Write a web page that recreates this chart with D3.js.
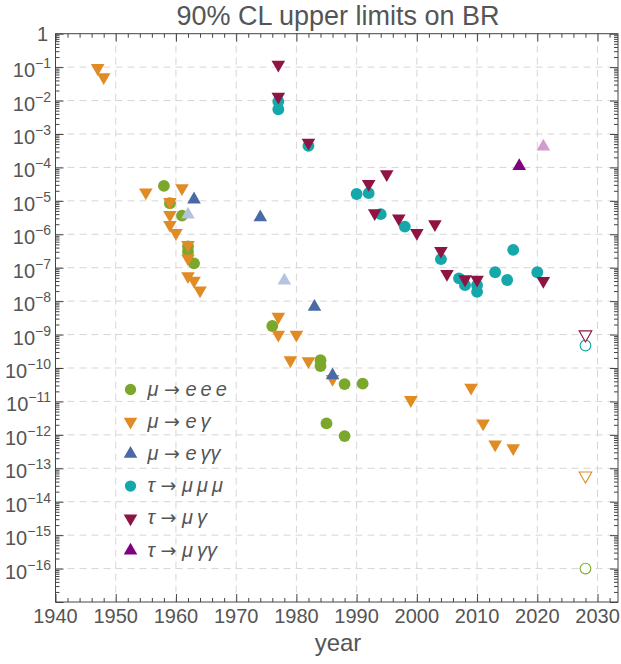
<!DOCTYPE html>
<html>
<head>
<meta charset="utf-8">
<script src="https://cdn.jsdelivr.net/npm/d3@7"></script>
<style>
  body { margin: 0; background: #fff; }
  text { font-family: "Liberation Sans", Arial, sans-serif; fill: #555; }
</style>
</head>
<body>
<svg id="chart" width="621" height="664"></svg>
<script>
// values: [year, BR upper limit]
var muEEE = [[1958,2.8e-5],[1959,8.5e-6],[1961,3.6e-6],[1962,4.3e-7],[1962,3e-7],[1963,1.35e-7],
             [1976,1.8e-9],[1984,1.7e-10],[1984,1.15e-10],[1988,3.3e-11],[1991,3.4e-11],
             [1985,2.2e-12],[1988,9.2e-13]];
var muEG = [[1947,0.094],[1948,0.05],[1955,1.8e-5],[1961,2.4e-5],[1959,9.3e-6],[1959,3.8e-6],
            [1959,1.9e-6],[1960,1.1e-6],[1962,4.8e-7],[1962,1.9e-7],[1962,5.6e-8],[1963,4.1e-8],
            [1964,2.1e-8],[1977,3.4e-9],[1977,1e-9],[1980,1e-9],[1979,1.7e-10],[1982,1.6e-10],
            [1986,4.7e-11],[1999,1.1e-11],[2009,2.6e-11],[2011,2.2e-12],[2013,5.2e-13],[2016,4e-13]];
var muEGG = [[1963,1.1e-5],[1974,3.2e-6],[1983,6.8e-9],[1986,6e-11]];
var muEGGlight = [[1962,3.9e-6],[1978,4.1e-8]];
var tauMMM = [[1977,9.3e-3],[1977,5.5e-3],[1982,4.4e-4],[1990,1.6e-5],[1992,1.7e-5],[1994,4e-6],
              [1998,1.7e-6],[2004,1.8e-7],[2007,4.8e-8],[2008,3e-8],[2010,3e-8],[2010,1.9e-8],
              [2013,7.3e-8],[2015,4.3e-8],[2016,3.4e-7],[2020,7.3e-8]];
var tauMG = [[1977,0.118],[1977,1.3e-2],[1982,5.5e-4],[1992,3.2e-5],[1995,6.3e-5],[1993,4.3e-6],
             [1997,3e-6],[2000,1.1e-6],[2003,2e-6],[2004,3.2e-7],[2005,6.5e-8],[2008,4.5e-8],
             [2010,4.4e-8],[2021,4e-8]];
var tauMGG = [[2017,1.1e-4]];
var tauMGGlight = [[2021,4.2e-4]];

// future sensitivities (open markers)
var muEEEproj = [[2028,1e-16]];
var muEGproj = [[2028,6e-14]];
var tauMMMproj = [[2028,4.7e-10]];
var tauMGproj = [[2028,1e-9]];

var xTicks = [1940,1950,1960,1970,1980,1990,2000,2010,2020,2030];
var yExps = [0,-1,-2,-3,-4,-5,-6,-7,-8,-9,-10,-11,-12,-13,-14,-15,-16];

var legendItems = [
  {from: "\u03bc", to: "e\u2009e\u2009e", color: "#7ba82b", shape: "circle"},
  {from: "\u03bc", to: "e\u2009\u03b3", color: "#e08b24", shape: "down"},
  {from: "\u03bc", to: "e\u2009\u03b3\u03b3", color: "#4a6aa6", shape: "up"},
  {from: "\u03c4", to: "\u03bc\u2009\u03bc\u2009\u03bc", color: "#14a8aa", shape: "circle"},
  {from: "\u03c4", to: "\u03bc\u2009\u03b3", color: "#8d1443", shape: "down"},
  {from: "\u03c4", to: "\u03bc\u2009\u03b3\u03b3", color: "#800080", shape: "up"}
];

var svg = d3.select("#chart");
var pL = 55.5, pR = 618, pT = 33.7, pB = 602;

var x = d3.scaleLinear().domain([1940, 2033.4]).range([pL, pR]);
var y = d3.scaleLog().domain([1e-17, 1]).range([pB, pT]);

// grid
var grid = svg.append("g").attr("stroke", "#d6d6d6").attr("stroke-dasharray", "7,5").attr("stroke-width", 1);
grid.selectAll("line.v").data(xTicks.slice(1)).enter().append("line")
  .attr("x1", function(d){ return x(d); }).attr("x2", function(d){ return x(d); })
  .attr("y1", pT).attr("y2", pB);
grid.selectAll("line.h").data(yExps.slice(1)).enter().append("line")
  .attr("x1", pL).attr("x2", pR)
  .attr("y1", function(d){ return y(Math.pow(10, d)); })
  .attr("y2", function(d){ return y(Math.pow(10, d)); });

// minor ticks
var xMinor = d3.range(1940, 2034, 2).filter(function(d){ return d % 10 != 0; });
var yMinor = [];
for (var e = -17; e < 0; e++) {
  for (var m = 2; m <= 9; m++) yMinor.push(m * Math.pow(10, e));
}

function frameAxis(axis, tr, vals, size) {
  var g = svg.append("g").attr("transform", tr)
    .call(axis.tickValues(vals).tickSize(size).tickFormat(""));
  g.select(".domain").remove();
  g.selectAll("line").attr("stroke", "#444");
  return g;
}

frameAxis(d3.axisBottom(x), "translate(0," + pB + ")", xTicks, -8);
frameAxis(d3.axisBottom(x), "translate(0," + pB + ")", xMinor, -4);
frameAxis(d3.axisTop(x), "translate(0," + pT + ")", xTicks, -8);
frameAxis(d3.axisTop(x), "translate(0," + pT + ")", xMinor, -4);
var yMajor = yExps.map(function(d){ return Math.pow(10, d); }).concat([1e-17]);
frameAxis(d3.axisLeft(y), "translate(" + pL + ",0)", yMajor, -8);
frameAxis(d3.axisLeft(y), "translate(" + pL + ",0)", yMinor, -4);
frameAxis(d3.axisRight(y), "translate(" + pR + ",0)", yMajor, -8);
frameAxis(d3.axisRight(y), "translate(" + pR + ",0)", yMinor, -4);

svg.append("rect")
  .attr("x", pL).attr("y", pT)
  .attr("width", pR - pL).attr("height", pB - pT)
  .attr("fill", "none").attr("stroke", "#444").attr("stroke-width", 1);

// tick labels
svg.append("g").selectAll("text").data(xTicks).enter().append("text")
  .attr("x", function(d){ return x(d); })
  .attr("y", pB + 21)
  .attr("text-anchor", "middle")
  .attr("font-size", 20)
  .text(function(d){ return d; });

var yl = svg.append("g").selectAll("text").data(yExps).enter().append("text")
  .attr("x", 51)
  .attr("y", function(d){ return y(Math.pow(10, d)) + 10; })
  .attr("text-anchor", "end")
  .attr("font-size", 20);
yl.each(function(d){
  var t = d3.select(this);
  if (d == 0) { t.attr("x", 48).attr("y", y(1) + 7).text("1"); return; }
  t.append("tspan").text("10");
  t.append("tspan").attr("dy", -9).attr("font-size", 14).text("\u2212" + (-d));
});

// titles
svg.append("text").attr("x", 338).attr("y", 25).attr("text-anchor", "middle")
  .attr("font-size", 27).text("90% CL upper limits on BR");
svg.append("text").attr("x", 338).attr("y", 651).attr("text-anchor", "middle")
  .attr("font-size", 24).text("year");

// markers
function drawSeries(data, color, shape, open) {
  var g = svg.append("g");
  var sel = g.selectAll("path").data(data).enter().append("path")
    .attr("fill", open ? "#fff" : color)
    .attr("stroke", open ? color : "none")
    .attr("stroke-width", open ? 1.1 : 0);
  if (shape == "circle") {
    sel.attr("d", d3.symbol().type(d3.symbolCircle).size(open ? 90 : 110)())
      .attr("transform", function(d){ return "translate(" + x(d[0]) + "," + y(d[1]) + ")"; });
  } else {
    var rot = shape == "down" ? 180 : 0;
    sel.attr("d", d3.symbol().type(d3.symbolTriangle).size(open ? 70 : 80)())
      .attr("transform", function(d){ return "translate(" + x(d[0]) + "," + y(d[1]) + ") rotate(" + rot + ")"; });
  }
}

drawSeries(muEEE, "#7ba82b", "circle");
drawSeries(muEG, "#e08b24", "down");
drawSeries(muEGGlight, "#b5c4de", "up");
drawSeries(muEGG, "#4a6aa6", "up");
drawSeries(tauMMM, "#14a8aa", "circle");
drawSeries(tauMG, "#8d1443", "down");
drawSeries(tauMGG, "#800080", "up");
drawSeries(tauMGGlight, "#d49bd0", "up");
drawSeries(muEEEproj, "#7ba82b", "circle", true);
drawSeries(muEGproj, "#e08b24", "down", true);
drawSeries(tauMMMproj, "#14a8aa", "circle", true);
drawSeries(tauMGproj, "#8d1443", "down", true);

// legend
var lg = svg.append("g").attr("transform", "translate(130.5,389.5)");
var rows = lg.selectAll("g").data(legendItems).enter().append("g")
  .attr("transform", function(d, i){ return "translate(0," + (i * 32.2) + ")"; });
rows.append("path")
  .attr("d", function(d){
    return d3.symbol().type(d.shape == "circle" ? d3.symbolCircle : d3.symbolTriangle)
      .size(d.shape == "circle" ? 100 : 80)();
  })
  .attr("transform", function(d){ return d.shape == "down" ? "rotate(180)" : null; })
  .attr("fill", function(d){ return d.color; });
var lt = rows.append("text")
  .attr("x", 17).attr("y", 6)
  .attr("font-size", 20)
  .attr("font-style", "italic");
lt.append("tspan").text(function(d){ return d.from + " "; });
lt.append("tspan").attr("font-style", "normal").attr("font-family", "DejaVu Sans")
  .attr("font-size", 19).text("\u2192");
lt.append("tspan").text(function(d){ return " " + d.to; });
</script>
</body>
</html>
